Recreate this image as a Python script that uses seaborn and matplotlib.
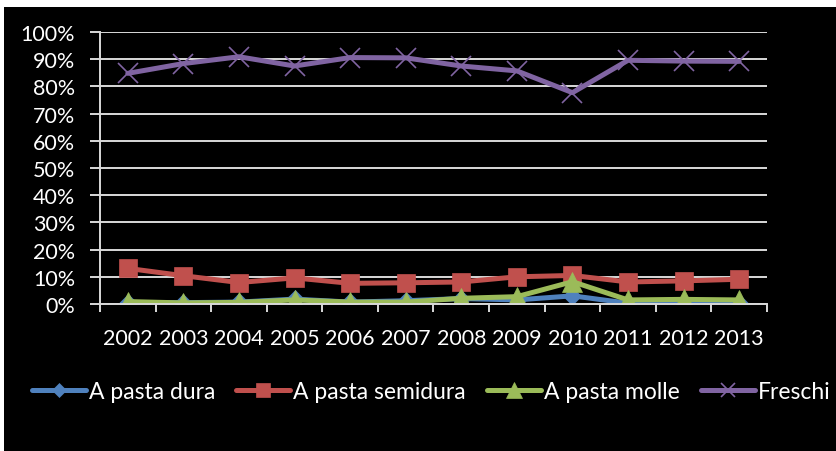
import matplotlib
matplotlib.use("Agg")
import matplotlib.pyplot as plt
import seaborn as sns
import pandas as pd
import numpy as np
from matplotlib.patches import Rectangle
from matplotlib.ticker import PercentFormatter, FixedLocator

years = ["2002", "2003", "2004", "2005", "2006", "2007", "2008", "2009", "2010", "2011", "2012", "2013"]
pasta_dura = [0.5, 0.5, 0.7, 1.8, 0.7, 1.2, 2.0, 1.5, 3.0, 0.3, 0.4, 0.3]
pasta_semidura = [13.1, 10.4, 7.9, 9.6, 7.6, 7.8, 8.1, 10.0, 10.5, 8.1, 8.5, 9.1]
pasta_molle = [0.9, 0.4, 0.6, 1.5, 0.7, 0.7, 2.1, 2.7, 8.2, 1.5, 1.7, 1.5]
freschi = [84.8, 88.4, 90.9, 87.5, 90.6, 90.5, 87.5, 85.7, 77.7, 89.6, 89.3, 89.2]

series_names = ["A pasta dura", "A pasta semidura", "A pasta molle", "Freschi"]
series_vals = [pasta_dura, pasta_semidura, pasta_molle, freschi]
colors = ["#4F81BD", "#C0504D", "#9BBB59", "#8064A2"]
markers = ["D", "s", "^", "x"]
msizes = [9, 13, 15, 14]

rows = []
for name, vals in zip(series_names, series_vals):
    for i, (y, v) in enumerate(zip(years, vals)):
        rows.append({"pos": i, "year": y, "series": name, "value": v / 100.0})
df = pd.DataFrame(rows)

sns.set_theme(style="white")
plt.rcParams["font.family"] = ["Lato", "DejaVu Sans"]

fig = plt.figure(figsize=(8.37, 4.52), dpi=100, facecolor="white")
fig.patches.append(Rectangle((4 / 837, 0), 1, 1 - 8 / 452, transform=fig.transFigure,
                             facecolor="black", edgecolor="none", zorder=-1))
ax = fig.add_axes([100 / 837, 1 - 305 / 452, (767 - 100) / 837, (305 - 33) / 452])
ax.set_facecolor("black")

for name, col, mk, ms in zip(series_names, colors, markers, msizes):
    sub = df[df["series"] == name]
    sns.lineplot(data=sub, x="pos", y="value", ax=ax, color=col, linewidth=3.6,
                 marker=mk, markersize=ms, markeredgecolor=col, markerfacecolor=col,
                 markeredgewidth=1.2 if mk == "x" else 0.5, label=name, legend=False)

ax.set_xlim(-0.5, len(years) - 0.5)
ax.set_ylim(0, 1.0)
ax.yaxis.set_major_locator(FixedLocator(np.arange(0, 1.01, 0.1)))
ax.yaxis.set_major_formatter(PercentFormatter(1.0, decimals=0))
ax.set_xticks(range(len(years)))
ax.set_xticklabels(years)
ax.set_xticks(np.arange(-0.5, len(years), 1.0), minor=True)

ax.grid(axis="y", color="#d9d9d9", linewidth=1.4)
ax.set_axisbelow(True)
ax.set_xlabel("")
ax.set_ylabel("")
for s in ["top", "right"]:
    ax.spines[s].set_visible(False)
for s in ["left", "bottom"]:
    ax.spines[s].set_color("#d9d9d9")
    ax.spines[s].set_linewidth(1.4)

ax.tick_params(axis="y", which="major", length=7, width=1.4, color="#d9d9d9",
               labelcolor="white", labelsize=15.5, pad=11, left=True)
ax.tick_params(axis="x", which="major", length=0, labelcolor="white", labelsize=15.5, pad=17)
ax.tick_params(axis="x", which="minor", length=6, width=1.4, color="#d9d9d9", bottom=True)

handles, labels = ax.get_legend_handles_labels()
leg = fig.legend(handles, labels, loc="center", bbox_to_anchor=(431 / 837, 1 - 393 / 452),
                 ncol=4, frameon=False, fontsize=16.5, labelcolor="white",
                 handlelength=2.36, handletextpad=0.13, columnspacing=0.92, markerscale=0.75,
                 borderaxespad=0, borderpad=0)

fig.savefig("out.png", dpi=100, facecolor="white")
